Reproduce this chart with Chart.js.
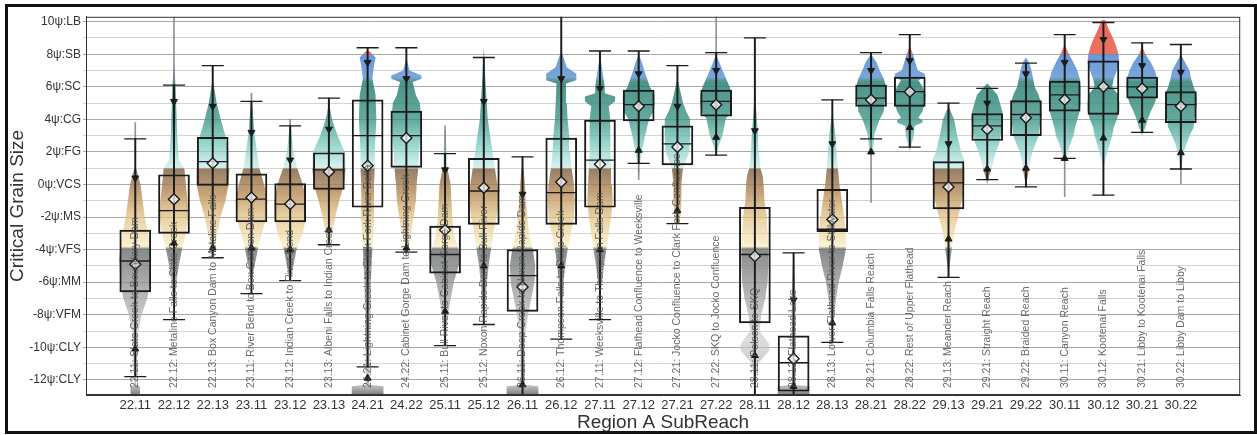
<!DOCTYPE html>
<html>
<head>
<meta charset="utf-8">
<script src="https://cdn.jsdelivr.net/npm/chart.js@4.4.1/dist/chart.umd.min.js"></script>
<style>
  html, body { margin: 0; padding: 0; background: #fff; }
  #wrap { position: relative; width: 1257px; height: 435px; }
  #frame { position: absolute; left: 5px; top: 4px; width: 1246px; height: 424px; border: 3px solid #111; pointer-events: none; }
</style>
</head>
<body>
<div id="wrap"><canvas id="chart"></canvas><div id="frame"></div></div>
<script>
/* ── data ── */
const codes = ['22.11','22.12','22.13','23.11','23.12','23.13','24.21','24.22','25.11','25.12','26.11','26.12','27.11','27.12',
               '27.21','27.22','28.11','28.12','28.13','28.21','28.22','29.13','29.21','29.22','30.11','30.12','30.21','30.22'];
const reachNames = [
  'Slate Creek to Boundary Dam', 'Metaline Falls to Slate Creek', 'Box Canyon Dam to Metaline Falls',
  'River Bend to Box Canyon Dam', 'Indian Creek to River Bend', 'Albeni Falls to Indian Creek',
  'Lightning Creek to Clark Fork River Delta', 'Cabinet Gorge Dam to Lightning Creek', 'Bull River to Cabinet Gorge Dam',
  'Noxon Rapids Dam to Bull River', 'Deep Creek to Noxon Rapids Dam', 'Thompson Falls to Deep Creek',
  'Weeksville to Thompson Falls Dam', 'Flathead Confluence to Weeksville', 'Jocko Confluence to Clark Fork Confluence',
  'SKQ to Jocko Confluence', 'Polson to SKQ', 'Flathead Lake', 'Lower Flathead River to Stillwater',
  'Columbia Falls Reach', 'Rest of Upper Flathead', 'Meander Reach', 'Straight Reach', 'Braided Reach',
  'Canyon Reach', 'Kootenai Falls', 'Libby to Kootenai Falls', 'Libby Dam to Libby'
];

const yTickValues = [10, 8, 6, 4, 2, 0, -2, -4, -6, -8, -10, -12];
const yTickLabels = ['10ψ:LB','8ψ:SB','6ψ:SC','4ψ:CG','2ψ:FG','0ψ:VCS','-2ψ:MS','-4ψ:VFS','-6ψ:MM','-8ψ:VFM','-10ψ:CLY','-12ψ:CLY'];

const whiskerLo = [-11.8,-8.3,-4.5,-6.7,-5.9,-3.7,-11.2,-4.15,-9.9,-8.6,-12.9,-9.5,-8.3,1.3,-2.4,1.8,-12.9,-12.9,-9.7,2.8,2.3,-5.7,0.3,-0.15,1.6,-0.65,3.2,0.95];
const q1        = [-6.6,-3.0,-0.05,-2.3,-2.3,-0.3,-1.4,1.05,-5.45,-2.45,-7.8,-2.45,-1.4,3.9,1.2,4.2,-8.5,-12.7,-2.9,4.8,4.8,-1.5,2.7,3.0,4.5,4.3,5.3,3.8];
const median    = [-4.7,-1.6,1.4,-0.9,-1.2,0.9,3.0,3.0,-4.3,-0.4,-5.6,-0.5,1.5,4.9,2.5,5.1,-4.3,-10.95,-2.75,5.3,5.7,0.1,3.6,4.3,5.5,5.9,6.0,4.9];
const q3        = [-2.8,0.6,2.9,0.66,0.05,1.95,5.2,4.5,-2.55,1.6,-4.0,2.85,3.95,5.8,3.6,5.8,-1.4,-9.3,-0.3,6.1,6.6,1.4,4.35,5.15,6.35,7.6,6.6,5.7];
const whiskerHi = [2.8,6.1,7.3,5.1,3.6,5.3,8.4,8.4,1.9,7.8,1.7,10.4,8.2,8.2,7.3,8.1,9.0,-4.2,5.2,8.1,9.2,5.0,5.9,7.45,9.2,9.95,8.7,8.6];
const meanVal   = [-4.9,-0.9,1.3,-0.8,-1.2,0.78,1.15,2.85,-2.8,-0.2,-6.3,0.15,1.25,4.8,2.3,4.9,-4.4,-10.7,-2.15,5.2,5.7,-0.15,3.4,4.1,5.2,6.0,5.9,4.8];
const triDown   = [0.4,5.1,4.8,3.2,1.5,3.4,7.5,6.5,0.9,5.1,-0.6,6.5,5.9,6.8,4.8,7.0,3.3,-7.1,2.5,7.0,7.6,2.5,5.0,6.8,7.5,8.9,7.3,6.9];
const triUp     = [-10.1,-3.6,-3.9,-3.9,-4.0,-2.8,-11.9,-3.9,-7.8,-5.0,-12.3,-5.0,-4.0,2.1,-1.6,2.9,-10.5,-12.4,-8.5,2.0,3.5,-3.35,0.95,1.0,1.6,2.85,3.95,1.95];
const tailHi    = [3.8,10.4,null,5.6,4.0,null,null,null,3.6,null,null,null,null,null,null,10.4,null,null,null,null,null,null,null,null,null,null,null,null];
const tailLo    = [null,null,null,null,null,null,null,null,null,null,null,null,null,0.3,null,null,null,null,null,-1.1,null,null,null,null,-0.75,null,null,0.05];

// violin profiles: [grain size, relative density], top to bottom
const violins = [
  [[1.2,0],[0,0.33],[-2,0.6],[-3.5,0.9],[-4.5,1.0],[-6,0.95],[-7,0.75],[-8,0.4],[-9,0.2],[-10.5,0.15],[-12.3,0.05],[-12.4,0.3],[-12.9,0.3]],
  [[7.5,0],[6,0.1],[3,0.2],[1.5,0.3],[1,0.65],[0,0.75],[-1,0.85],[-2,0.9],[-3,0.75],[-4,0.5],[-5,0.3],[-6,0.15],[-7,0.1],[-8,0]],
  [[6.5,0],[5,0.25],[4,0.5],[3,0.8],[2,1.0],[1,1.05],[0,1.0],[-1,0.8],[-2,0.5],[-3,0.3],[-4,0.12],[-4.5,0]],
  [[5.5,0],[3,0.2],[1,0.5],[0,0.8],[-1,1.0],[-2,0.95],[-3,0.65],[-4,0.4],[-5,0.2],[-6,0]],
  [[4,0],[2,0.2],[1,0.45],[0,0.8],[-1,1.0],[-2,1.0],[-3,0.8],[-4,0.4],[-5,0.2],[-6,0]],
  [[5,0],[4,0.2],[3,0.55],[2,1.0],[1,1.05],[0,0.95],[-1,0.65],[-2,0.4],[-3,0.2],[-4,0]],
  [[8.2,0.1],[7.8,0.5],[7.3,0.4],[6.5,0.3],[5.5,0.5],[4,0.55],[2,0.45],[1,0.45],[0,0.4],[-2,0.4],[-4,0.3],[-6,0.2],[-9,0.15],[-12.3,0.12],[-12.4,1.0],[-12.9,1.0]],
  [[7.8,0],[7,0.2],[6.7,0.95],[6.5,0.95],[6.3,0.4],[5.5,0.6],[5,0.85],[4,0.95],[3,0.9],[2,0.8],[1,0.75],[0,0.65],[-1,0.6],[-2,0.45],[-3,0.3],[-4,0.12],[-4.5,0]],
  [[3.6,0],[1,0.15],[0,0.35],[-1,0.4],[-2,0.45],[-3,0.55],[-4,0.85],[-4.5,1.0],[-5,0.85],[-6,0.55],[-7,0.35],[-8,0.2],[-9,0.12],[-10,0]],
  [[8.5,0],[6,0.12],[4,0.25],[3,0.4],[2,0.55],[1,0.7],[0,0.85],[-1,0.95],[-2,0.8],[-3,0.6],[-4,0.45],[-5,0.3],[-6,0.2],[-7,0.12],[-8,0.05],[-8.6,0]],
  [[1.7,0],[0,0.15],[-1,0.2],[-2,0.3],[-3,0.4],[-4,0.65],[-5,0.8],[-6,0.75],[-7,0.55],[-8,0.35],[-9,0.2],[-10.5,0.15],[-12.3,0.12],[-12.4,1.0],[-12.9,1.0]],
  [[8.2,0],[7.2,0.35],[6.8,0.95],[6.4,0.95],[6.2,0.3],[5,0.35],[4,0.4],[3,0.5],[2,0.55],[1,0.65],[0,0.8],[-1,0.85],[-2,0.8],[-3,0.6],[-4,0.4],[-5,0.25],[-6,0.15],[-8,0.05],[-9,0]],
  [[8,0],[7,0.15],[6,0.3],[5.6,0.3],[5.4,0.95],[5.1,0.95],[4.8,0.55],[4,0.65],[3,0.65],[2,0.65],[1,0.7],[0,0.75],[-1,0.8],[-2,0.7],[-3,0.55],[-4,0.4],[-5,0.25],[-6,0.12],[-7,0]],
  [[8,0],[7.5,0.2],[7,0.35],[6,0.7],[5.5,1.0],[5,1.0],[4.5,0.95],[4,0.65],[3,0.4],[2,0.2],[1,0.05],[0.5,0]],
  [[6.5,0],[6,0.12],[5,0.35],[4.5,0.55],[4,0.8],[3,0.8],[2,0.75],[1.5,0.55],[1,0.35],[0,0.25],[-1,0.25],[-2,0.2],[-2.5,0]],
  [[8,0],[7.5,0.2],[7,0.4],[6,0.85],[5.5,1.0],[5,1.0],[4.5,0.95],[4,0.6],[3,0.4],[2.5,0.2],[1.8,0]],
  [[5.8,0],[4,0.12],[3,0.2],[2,0.25],[1,0.35],[0.5,0.5],[0,0.55],[-1,0.6],[-2,0.75],[-3,0.8],[-4,0.85],[-5,0.85],[-6,0.8],[-7,0.65],[-8,0.4],[-9,0.3],[-9.8,0.9],[-10.2,0.9],[-11,0.2],[-12,0.05],[-12.5,0]],
  [[-4.5,0],[-5,0.05],[-7,0.12],[-9,0.12],[-12.3,0.12],[-12.4,1.0],[-12.9,1.0]],
  [[4.5,0],[3,0.2],[2,0.27],[1,0.35],[0,0.45],[-1,0.6],[-2,0.75],[-3,0.85],[-4,0.85],[-5,0.65],[-6,0.4],[-7,0.25],[-8,0.12],[-9,0.05],[-9.5,0]],
  [[8,0],[7.5,0.35],[7,0.55],[6.5,0.8],[6,0.95],[5.5,0.95],[5,0.85],[4.5,0.8],[4,0.55],[3.5,0.35],[3,0.2],[2,0.12],[1.5,0]],
  [[8.5,0],[8,0.2],[7.5,0.35],[7,0.5],[6.8,0.95],[6.6,0.95],[6.4,0.55],[6,0.8],[5.5,1.0],[5,0.95],[4.5,0.8],[4.1,0.55],[3.95,0.8],[3.8,0.8],[3.6,0.3],[3,0.25],[2.5,0.12],[2,0]],
  [[4.8,0],[4,0.35],[3,0.55],[2,0.8],[1.5,1.0],[1,1.0],[0,1.0],[-1,0.85],[-2,0.6],[-3,0.35],[-4,0.2],[-5,0.07],[-5.5,0]],
  [[6.2,0],[6,0.2],[5.5,0.65],[5,0.8],[4.5,0.95],[4,1.0],[3.5,0.95],[3,0.85],[2.5,0.75],[2,0.55],[1.5,0.4],[1,0.27],[0.5,0.12],[0,0]],
  [[7.8,0],[7.5,0.2],[7,0.35],[6,0.55],[5.5,0.8],[5,0.95],[4,0.95],[3.5,0.85],[3,0.8],[2.5,0.6],[2,0.4],[1.5,0.27],[1,0.2],[0.5,0.12],[0,0]],
  [[8.6,0],[8,0.27],[7.5,0.55],[7,0.8],[6.5,0.95],[6,1.0],[5,1.0],[4.5,0.95],[4,0.8],[3.5,0.65],[3,0.55],[2.5,0.35],[2,0.2],[1.5,0.07],[1,0]],
  [[10.1,0.1],[9.5,0.35],[9,0.6],[8.5,0.8],[8,0.95],[7.5,1.0],[7,0.85],[6.5,0.65],[6,0.55],[5.5,0.95],[5,1.0],[4.5,1.0],[4,0.85],[3.5,0.65],[3,0.55],[2.5,0.4],[2,0.27],[1.5,0.12],[1,0]],
  [[8.5,0],[8,0.2],[7.5,0.55],[7,0.8],[6.5,0.95],[6,1.0],[5.5,0.95],[5,0.8],[4.5,0.55],[4,0.35],[3.5,0.2],[3,0]],
  [[8,0],[7.5,0.27],[7,0.55],[6.5,0.65],[6,0.8],[5.5,1.0],[5,1.0],[4.5,0.95],[4,0.85],[3.5,0.8],[3,0.55],[2.5,0.35],[2,0.2],[1.5,0.12],[1,0]]
];

/* ── styling helpers ── */
const Y_MIN = -12.93, Y_MAX = 10.3;
const VIOLIN_W = 0.41;              // x units for density 1
const FONT = '"Liberation Sans", Arial, sans-serif';

// colour by grain size class (fines grey, sand tan, gravel teal, cobble blue, boulder red)
const grainStops = [
  [10.3, 'rgba(232,88,74,0.9)'], [8.05, 'rgba(232,98,82,0.9)'],
  [7.95, 'rgba(88,142,212,0.9)'], [6.6, 'rgba(100,150,210,0.85)'],
  [6.3, 'rgba(46,128,114,0.85)'], [4.0, 'rgba(62,148,134,0.8)'],
  [2.5, 'rgba(118,200,190,0.75)'], [1.05, 'rgba(200,237,231,0.75)'],
  [0.95, 'rgba(132,104,76,0.85)'], [-0.5, 'rgba(182,138,86,0.8)'],
  [-2.0, 'rgba(224,190,124,0.7)'], [-3.8, 'rgba(246,234,184,0.65)'],
  [-3.95, 'rgba(114,118,118,0.85)'], [-6.5, 'rgba(152,152,152,0.75)'],
  [-9.5, 'rgba(202,202,202,0.65)'], [-12.3, 'rgba(172,172,172,0.7)'],
  [Y_MIN, 'rgba(110,110,110,0.9)']
];
let gradCache = null;
function grainFill(chart) {
  const y = chart.scales.y;
  if (!chart.chartArea || !y) return 'rgba(0,0,0,0)';
  const top = y.getPixelForValue(Y_MAX), bot = y.getPixelForValue(Y_MIN);
  if (gradCache && gradCache.top === top && gradCache.bot === bot) return gradCache.g;
  const g = chart.ctx.createLinearGradient(0, top, 0, bot);
  grainStops.forEach(([v, c]) => g.addColorStop((Y_MAX - v) / (Y_MAX - Y_MIN), c));
  gradCache = { top, bot, g };
  return g;
}

const pts = (arr) => arr.map((v, i) => (v === null ? null : { x: i, y: v })).filter(Boolean);

// ── violins: closed outline, right side upward then left side downward ──
const violinSets = violins.map((prof, i) => ({
  type: 'line',
  order: 10,
  data: [
    ...prof.slice().reverse().map(([y, d]) => ({ x: i + d * VIOLIN_W, y })),
    ...prof.map(([y, d]) => ({ x: i - d * VIOLIN_W, y }))
  ],
  fill: 'shape',
  backgroundColor: (c) => grainFill(c.chart),
  borderColor: 'rgba(0,0,0,0)',
  borderWidth: 0,
  pointRadius: 0,
  tension: 0
}));

const barBase = { type: 'bar', grouped: false, borderSkipped: false };

const datasets = [
  ...violinSets,
  { ...barBase, order: 6, barThickness: 1,
    data: [...codes.map((c, i) => tailHi[i] === null ? null : { x: i, y: [whiskerHi[i], tailHi[i]] }),
           ...codes.map((c, i) => tailLo[i] === null ? null : { x: i, y: [tailLo[i], whiskerLo[i]] })].filter(Boolean),
    backgroundColor: 'rgba(120,120,120,0.8)' },
  { ...barBase, order: 5, barThickness: 1.3,
    data: codes.map((c, i) => ({ x: i, y: [whiskerLo[i], whiskerHi[i]] })),
    backgroundColor: '#1b1b1b' },
  { ...barBase, order: 4, barThickness: 31,
    data: codes.map((c, i) => ({ x: i, y: [q1[i], q3[i]] })),
    backgroundColor: 'rgba(0,0,0,0)', borderColor: '#1b1b1b', borderWidth: 1.3 },
  { type: 'scatter', order: 3, data: pts(median),
    pointStyle: 'line', pointRadius: 15.5, borderColor: '#1b1b1b', pointBorderWidth: 1.3 },
  { type: 'scatter', order: 3,
    data: [...pts(whiskerHi), ...pts(whiskerLo)].filter(p => p.y < Y_MAX - 0.2 && p.y > Y_MIN + 0.2),
    pointStyle: 'line', pointRadius: 11, borderColor: '#1b1b1b', pointBorderWidth: 1.3 },
  { type: 'scatter', order: 2, data: pts(triDown),
    pointStyle: 'triangle', rotation: 180, pointRadius: 4, backgroundColor: '#1b1b1b', borderColor: '#1b1b1b' },
  { type: 'scatter', order: 2, data: pts(triUp),
    pointStyle: 'triangle', pointRadius: 4, backgroundColor: '#1b1b1b', borderColor: '#1b1b1b' },
  { type: 'scatter', order: 1, data: pts(meanVal),
    pointStyle: 'rectRot', pointRadius: 5.5, backgroundColor: 'rgba(255,255,255,0.75)',
    borderColor: '#1b1b1b', pointBorderWidth: 1.4 }
];

// panel outline + rotated reach names inside the plot
const reachLabels = {
  id: 'reachLabels',
  afterDatasetsDraw(chart) {
    const { ctx, chartArea: a, scales } = chart;
    ctx.save();
    ctx.strokeStyle = '#333';
    ctx.lineWidth = 1;
    ctx.strokeRect(a.left + 0.5, a.top + 0.5, a.width - 1, a.height - 1);
    ctx.font = '10.5px ' + FONT;
    ctx.fillStyle = 'rgba(80,80,80,0.85)';
    ctx.textAlign = 'left';
    ctx.textBaseline = 'middle';
    reachNames.forEach((name, i) => {
      ctx.save();
      ctx.translate(scales.x.getPixelForValue(i), a.bottom - 7);
      ctx.rotate(-Math.PI / 2);
      ctx.fillText(`${codes[i]}: ${name}`, 0, 0);
      ctx.restore();
    });
    ctx.restore();
  }
};

new Chart(document.getElementById('chart'), {
  type: 'bar',
  data: { datasets },
  plugins: [reachLabels],
  options: {
    responsive: true, maintainAspectRatio: false, animation: false,
    layout: { padding: { left: 6, right: 7, top: 7, bottom: 0 } },
    plugins: { legend: { display: false }, tooltip: { enabled: false } },
    scales: {
      x: {
        type: 'linear', min: -0.74, max: 28.0,
        afterBuildTicks: s => { s.ticks = codes.map((c, i) => ({ value: i })); },
        afterFit: s => { s.height = 40; },
        ticks: { callback: v => codes[v], autoSkip: false, maxRotation: 0, padding: 3,
                 color: '#333', font: { family: FONT, size: 13 } },
        grid: { display: false, drawTicks: false },
        border: { color: '#333', width: 1 },
        title: { display: true, text: 'Region A SubReach', color: '#333',
                 font: { family: FONT, size: 19 }, padding: { top: 0, bottom: 1 } }
      },
      y: {
        min: Y_MIN, max: Y_MAX,
        afterBuildTicks: s => { s.ticks = Array.from({ length: 23 }, (_, k) => ({ value: k - 12 })); },
        afterFit: s => { s.width = 80; },
        ticks: { callback: v => { const k = yTickValues.indexOf(v); return k < 0 ? '' : yTickLabels[k]; },
                 autoSkip: false, padding: 2, color: '#333', font: { family: FONT, size: 12 } },
        grid: { color: c => (c.tick && c.tick.value % 2 === 0 ? '#a8a8a8' : '#d4d4d4'), lineWidth: 1, tickLength: 3 },
        border: { color: '#333', width: 1 },
        title: { display: true, text: 'Critical Grain Size', color: '#333',
                 font: { family: FONT, size: 19 }, padding: { top: 0, bottom: 2 } }
      }
    }
  }
});
</script>
</body>
</html>
